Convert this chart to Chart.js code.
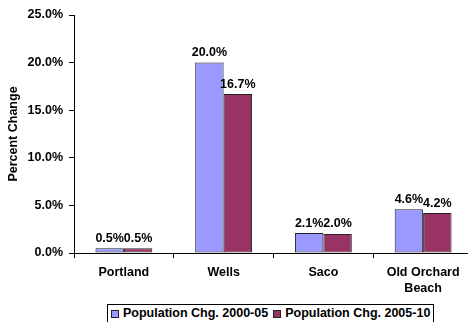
<!DOCTYPE html>
<html>
<head>
<meta charset="utf-8">
<script src="https://cdn.jsdelivr.net/npm/chart.js@4/dist/chart.umd.min.js"></script>
<style>
  html, body { margin: 0; padding: 0; background: #fff; overflow: hidden; width: 468px; height: 322px; }
  #wrap { position: absolute; left: 0; top: 0; width: 476px; height: 322px; }
  #legend {
    position: absolute; left: 107px; top: 304px; height: 20px;
    border: 1px solid #000; background: #fff; box-sizing: border-box;
    display: flex; align-items: center; padding: 0 3px 1px 3px;
    font: bold 12.5px "Liberation Sans", Arial, sans-serif; color: #000; line-height: 15px;
  }
  .item { display: flex; align-items: center; white-space: nowrap; }
  .item + .item { margin-left: 5px; }
  .sw { width: 8px; height: 8px; border: 1px solid #222; box-sizing: border-box; margin-right: 4px; }
</style>
</head>
<body>
<div id="wrap"><canvas id="c" width="476" height="322"></canvas></div>
<div id="legend"></div>
<script>
const categories = ["Portland", "Wells", "Saco", ["Old Orchard", "Beach"]];
const seriesNames = ["Population Chg. 2000-05", "Population Chg. 2005-10"];
const chg2000_05 = [0.5, 20.0, 2.1, 4.6];
const chg2005_10 = [0.5, 16.7, 2.0, 4.2];
const yTicks = [0, 5, 10, 15, 20, 25];
const seriesColors = ["#9999FF", "#993366"];

const FONT = { family: '"Liberation Sans", Arial, sans-serif', size: 12.5, weight: 'bold' };

const dataLabels = {
  id: 'dataLabels',
  afterDatasetsDraw(chart) {
    const ctx = chart.ctx;
    ctx.save();
    ctx.font = 'bold 12.5px "Liberation Sans", Arial, sans-serif';
    ctx.fillStyle = '#000';
    ctx.textAlign = 'center';
    ctx.textBaseline = 'alphabetic';
    chart.data.datasets.forEach((ds, i) => {
      chart.getDatasetMeta(i).data.forEach((bar, j) => {
        ctx.fillText(ds.data[j].toFixed(1) + '%', bar.x, bar.y - 6.5);
      });
    });
    ctx.restore();
  }
};

const chart = new Chart(document.getElementById('c'), {
  type: 'bar',
  data: {
    labels: categories,
    datasets: [
      { label: seriesNames[0], data: chg2000_05, backgroundColor: seriesColors[0], borderColor: '#222', borderWidth: 1, borderSkipped: false },
      { label: seriesNames[1], data: chg2005_10, backgroundColor: seriesColors[1], borderColor: '#222', borderWidth: 1, borderSkipped: false }
    ]
  },
  options: {
    responsive: false,
    animation: false,
    devicePixelRatio: 1,
    datasets: { bar: { categoryPercentage: 0.57, barPercentage: 1.0 } },
    layout: { padding: { top: 15, left: 0, right: 3, bottom: 0 } },
    plugins: { legend: { display: false }, tooltip: { enabled: false } },
    scales: {
      x: {
        grid: { display: true, drawOnChartArea: false, drawTicks: true, tickLength: 5, color: '#000', offset: true },
        border: { display: true, color: '#000', width: 1 },
        ticks: { color: '#000', font: { ...FONT, lineHeight: 1.28 }, padding: 7, maxRotation: 0, autoSkip: false },
        afterFit(s) { s.height = 322 - 253; }
      },
      y: {
        min: 0, max: 25,
        afterBuildTicks(s) { s.ticks = yTicks.map(v => ({ value: v })); },
        grid: { display: true, drawOnChartArea: false, drawTicks: true, tickLength: 5, color: '#000' },
        border: { display: true, color: '#000', width: 1 },
        ticks: { color: '#000', font: FONT, padding: 6, callback: v => Number(v).toFixed(1) + '%' },
        title: { display: true, text: 'Percent Change', color: '#000', font: FONT, padding: { top: 6, bottom: 0 } },
        afterFit(s) { s.width = 74; }
      }
    }
  },
  plugins: [dataLabels]
});

const legend = document.getElementById('legend');
seriesNames.forEach((name, i) => {
  const it = document.createElement('div');
  it.className = 'item';
  const sw = document.createElement('span');
  sw.className = 'sw';
  sw.style.background = seriesColors[i];
  const tx = document.createElement('span');
  tx.textContent = name;
  it.appendChild(sw); it.appendChild(tx);
  legend.appendChild(it);
});
</script>
</body>
</html>
